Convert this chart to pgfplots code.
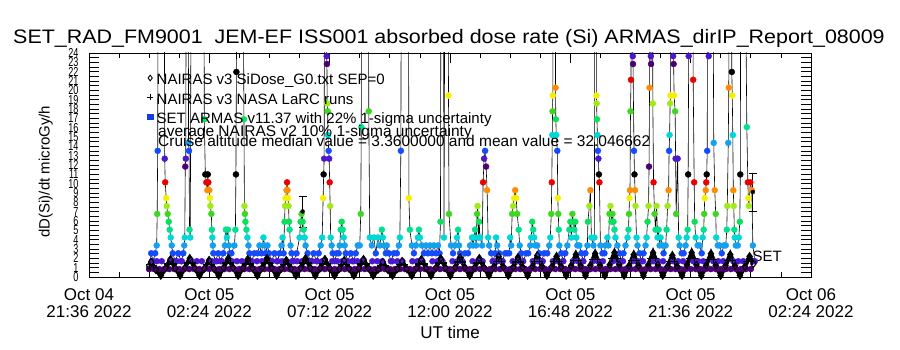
\documentclass[border=0pt]{standalone}
\usepackage{pgfplots}
\usepackage{pgfplotstable}
\pgfplotsset{compat=1.18}
\usepackage{fontspec}
\setmainfont{Liberation Sans}
\newfontfamily\ynarrow[FakeStretch=0.7]{Liberation Sans}
\newfontfamily\titlefont[FakeStretch=1.1]{Liberation Sans}
\definecolor{k1col}{RGB}{75,0,115}
\definecolor{k2col}{RGB}{75,25,205}
\definecolor{k3col}{RGB}{20,75,250}
\definecolor{k4col}{RGB}{20,160,240}
\definecolor{k5col}{RGB}{0,215,215}
\definecolor{k6col}{RGB}{0,225,140}
\definecolor{k7col}{RGB}{10,225,90}
\definecolor{k8col}{RGB}{60,215,30}
\definecolor{k9col}{RGB}{160,235,20}
\definecolor{k10col}{RGB}{245,240,0}
\definecolor{k11col}{RGB}{255,140,0}
\definecolor{k12col}{RGB}{235,0,0}
\definecolor{k13col}{RGB}{0,0,0}
\definecolor{legblue}{RGB}{20,60,230}

\pgfplotstableread{
t v c
0.00 0.85 c1
0.08 2.54 c3
0.16 1.69 c2
0.24 2.54 c3
0.30 3.38 c4
0.32 6.76 c8
0.34 13.52 c3
0.36 40 c13
0.60 40 c13
0.62 12.68 c2
0.64 10.14 c12
0.68 8.45 c10
0.70 7.61 c9
0.74 6.76 c8
0.78 5.92 c7
0.82 5.07 c6
0.86 4.23 c5
0.90 3.38 c4
0.94 2.54 c3
1.04 1.69 c2
1.16 2.54 c3
1.28 1.69 c2
1.36 2.54 c3
1.40 3.38 c4
1.42 4.23 c5
1.44 11.83 c1
1.46 12.68 c2
1.48 40 c13
1.56 40 c13
1.57 14.37 c4
1.59 13.52 c3
1.61 5.07 c6
1.64 4.23 c5
1.68 40 c13
2.18 40 c13
2.20 16.90 c7
2.24 10.99 c13
2.28 10.14 c12
2.32 9.30 c11
2.34 10.99 c13
2.36 10.14 c12
2.40 9.30 c11
2.42 8.45 c10
2.44 7.61 c9
2.48 6.76 c8
2.50 5.07 c6
2.52 4.23 c5
2.54 3.38 c4
2.56 2.54 c3
2.64 1.69 c2
2.76 2.54 c3
2.84 1.69 c2
2.96 2.54 c3
3.02 3.38 c4
3.06 5.07 c6
3.10 4.23 c5
3.14 5.07 c6
3.18 3.38 c4
3.22 2.54 c3
3.28 2.54 c3
3.40 3.38 c4
3.44 5.07 c6
3.46 10.99 c13
3.48 21.97 c13
3.50 40 c13
3.74 40 c13
3.78 16.90 c7
3.80 7.61 c9
3.82 6.76 c8
3.84 5.92 c7
3.88 5.07 c6
3.92 4.23 c5
3.96 3.38 c4
4.00 2.54 c3
4.08 1.69 c2
4.20 2.54 c3
4.32 2.54 c3
4.40 3.38 c4
4.48 2.54 c3
4.56 4.23 c5
4.60 3.38 c4
4.64 2.54 c3
4.72 3.38 c4
4.78 2.54 c3
4.88 1.69 c2
5.00 2.54 c3
5.12 1.69 c2
5.20 2.54 c3
5.28 3.38 c4
5.32 4.23 c5
5.36 2.54 c3
5.40 5.92 c7
5.42 7.61 c9
5.44 8.45 c10
5.48 9.30 c11
5.50 10.14 c12
5.52 9.30 c11
5.54 8.45 c10
5.56 7.61 c9
5.58 5.92 c7
5.60 5.07 c6
5.64 3.38 c4
5.68 2.54 c3
5.76 1.69 c2
5.88 2.54 c3
6.00 4.23 c5
6.04 5.92 c7
6.08 6.76 c8
6.12 5.92 c7
6.16 5.07 c6
6.20 4.23 c5
6.24 3.38 c4
6.32 2.54 c3
6.44 1.69 c2
6.56 2.54 c3
6.68 1.69 c2
6.76 2.54 c3
6.84 3.38 c4
6.90 4.23 c5
6.94 8.45 c10
6.96 10.99 c13
6.98 12.68 c2
7.00 40 c13
7.06 40 c13
7.08 23.66 c2
7.09 22.82 c1
7.10 18.59 c9
7.12 17.75 c8
7.13 15.21 c5
7.16 13.52 c3
7.18 12.68 c2
7.20 10.14 c12
7.22 7.61 c9
7.24 4.23 c5
7.28 3.38 c4
7.32 2.54 c3
7.40 1.69 c2
7.48 2.54 c3
7.56 2.54 c3
7.60 3.38 c4
7.64 5.07 c6
7.68 5.92 c7
7.72 5.07 c6
7.76 4.23 c5
7.80 3.38 c4
7.84 2.54 c3
7.92 1.69 c2
8.04 2.54 c3
8.16 1.69 c2
8.24 2.54 c3
8.32 3.38 c4
8.40 3.38 c4
8.44 6.76 c8
8.46 16.06 c6
8.48 40 c13
8.74 40 c13
8.76 17.75 c8
8.80 4.23 c5
8.88 3.38 c4
8.96 4.23 c5
9.04 2.54 c3
9.12 4.23 c5
9.20 3.38 c4
9.28 5.07 c6
9.32 4.23 c5
9.36 3.38 c4
9.44 2.54 c3
9.48 3.38 c4
9.56 2.54 c3
9.64 1.69 c2
9.76 2.54 c3
9.88 2.54 c3
9.96 3.38 c4
10.00 4.23 c5
10.04 13.52 c3
10.06 40 c13
10.34 40 c13
10.36 8.45 c10
10.40 5.07 c6
10.48 3.38 c4
10.56 2.54 c3
10.64 3.38 c4
10.72 4.23 c5
10.76 5.07 c6
10.80 4.23 c5
10.88 3.38 c4
10.96 2.54 c3
11.04 3.38 c4
11.12 2.54 c3
11.20 3.38 c4
11.28 2.54 c3
11.36 3.38 c4
11.44 2.54 c3
11.52 3.38 c4
11.58 2.54 c3
11.62 5.92 c7
11.64 40 c13
11.74 40 c13
11.76 4.23 c5
11.80 40 c13
11.92 40 c13
11.94 19.44 c10
11.96 6.76 c8
12.04 3.38 c4
12.12 2.54 c3
12.20 3.38 c4
12.28 4.23 c5
12.32 5.07 c6
12.36 3.38 c4
12.40 2.54 c3
12.48 1.69 c2
12.60 2.54 c3
12.72 2.54 c3
12.80 3.38 c4
12.88 4.23 c5
12.92 3.38 c4
12.96 4.23 c5
13.00 5.07 c6
13.04 3.38 c4
13.08 6.76 c8
13.10 7.61 c9
13.14 4.23 c5
13.16 5.92 c7
13.20 4.23 c5
13.28 3.38 c4
13.32 10.14 c12
13.36 12.68 c2
13.40 13.52 c3
13.44 11.83 c1
13.48 9.30 c11
13.52 4.23 c5
13.56 3.38 c4
13.64 2.54 c3
13.72 1.69 c2
13.80 2.54 c3
13.84 4.23 c5
13.88 3.38 c4
13.96 2.54 c3
14.08 1.69 c2
14.20 2.54 c3
14.28 2.54 c3
14.36 2.54 c3
14.40 4.23 c5
14.44 3.38 c4
14.48 6.76 c8
14.52 7.61 c9
14.56 8.45 c10
14.60 9.30 c11
14.64 8.45 c10
14.68 6.76 c8
14.74 5.07 c6
14.78 3.38 c4
14.84 2.54 c3
14.92 1.69 c2
15.04 2.54 c3
15.12 2.54 c3
15.20 3.38 c4
15.24 4.23 c5
15.28 5.92 c7
15.32 5.07 c6
15.36 4.23 c5
15.40 3.38 c4
15.48 3.38 c4
15.56 2.54 c3
15.64 1.69 c2
15.76 2.54 c3
15.88 2.54 c3
15.96 3.38 c4
16.00 4.23 c5
16.04 6.76 c8
16.06 10.14 c12
16.08 15.21 c5
16.09 17.75 c8
16.10 19.44 c10
16.12 40 c13
16.20 40 c13
16.21 20.28 c11
16.22 16.90 c7
16.24 15.21 c5
16.28 13.52 c3
16.30 8.45 c10
16.32 6.76 c8
16.34 5.07 c6
16.36 3.38 c4
16.44 2.54 c3
16.52 1.69 c2
16.60 2.54 c3
16.68 3.38 c4
16.76 5.07 c6
16.80 5.92 c7
16.84 4.23 c5
16.88 6.76 c8
16.92 5.92 c7
16.96 5.07 c6
17.00 5.92 c7
17.04 4.23 c5
17.08 3.38 c4
17.16 3.38 c4
17.24 2.54 c3
17.32 1.69 c2
17.40 2.54 c3
17.48 3.38 c4
17.50 5.92 c7
17.56 7.61 c9
17.60 9.30 c11
17.64 4.23 c5
17.72 3.38 c4
17.76 4.23 c5
17.78 40 c13
17.82 40 c13
17.84 19.44 c10
17.85 18.59 c9
17.86 16.90 c7
17.88 15.21 c5
17.90 13.52 c3
17.92 12.68 c2
17.94 10.99 c13
17.96 10.14 c12
18.00 3.38 c4
18.08 2.54 c3
18.16 2.54 c3
18.20 3.38 c4
18.28 4.23 c5
18.32 3.38 c4
18.36 6.76 c8
18.40 7.61 c9
18.44 5.92 c7
18.48 6.76 c8
18.52 5.92 c7
18.56 5.07 c6
18.60 4.23 c5
18.68 3.38 c4
18.76 2.54 c3
18.84 1.69 c2
18.92 2.54 c3
19.00 3.38 c4
19.08 4.23 c5
19.12 5.07 c6
19.14 6.76 c8
19.16 8.45 c10
19.18 9.30 c11
19.20 17.75 c8
19.22 21.13 c12
19.24 40 c13
19.28 40 c13
19.29 23.66 c2
19.30 22.82 c1
19.34 13.52 c3
19.36 10.99 c13
19.38 9.30 c11
19.40 7.61 c9
19.44 4.23 c5
19.48 3.38 c4
19.56 2.54 c3
19.64 1.69 c2
19.72 2.54 c3
19.80 3.38 c4
19.84 4.23 c5
19.88 5.92 c7
19.92 7.61 c9
19.94 11.83 c1
19.96 20.28 c11
19.97 40 c13
20.01 23.66 c2
20.02 22.82 c1
20.04 40 c13
20.08 40 c13
20.09 18.59 c9
20.12 10.14 c12
20.16 6.76 c8
20.20 5.07 c6
20.24 7.61 c9
20.28 4.23 c5
20.32 5.07 c6
20.36 3.38 c4
20.40 4.23 c5
20.48 3.38 c4
20.52 2.54 c3
20.60 3.38 c4
20.64 5.07 c6
20.68 7.61 c9
20.72 9.30 c11
20.74 13.52 c3
20.76 15.21 c5
20.78 18.59 c9
20.80 19.44 c10
20.81 40 c13
20.88 40 c13
20.90 23.66 c2
20.92 22.82 c1
20.94 19.44 c10
20.98 17.75 c8
21.00 12.68 c2
21.02 6.76 c8
21.08 12.68 c2
21.12 4.23 c5
21.16 3.38 c4
21.24 2.54 c3
21.32 2.54 c3
21.40 3.38 c4
21.44 4.23 c5
21.48 5.07 c6
21.50 10.99 c13
21.52 23.66 c2
21.54 40 c13
21.68 40 c13
21.70 21.13 c12
21.74 10.14 c12
21.76 5.92 c7
21.80 4.23 c5
21.88 3.38 c4
21.96 3.38 c4
22.04 2.54 c3
22.08 4.23 c5
22.12 5.07 c6
22.14 6.76 c8
22.16 8.45 c10
22.20 9.30 c11
22.22 10.14 c12
22.24 10.99 c13
22.26 13.52 c3
22.28 40 c13
22.32 23.66 c2
22.34 40 c13
22.48 40 c13
22.52 14.37 c4
22.56 9.30 c11
22.60 6.76 c8
22.62 4.23 c5
22.68 3.38 c4
22.76 3.38 c4
22.84 2.54 c3
22.92 3.38 c4
23.00 3.38 c4
23.04 5.07 c6
23.06 7.61 c9
23.10 14.37 c4
23.12 20.28 c11
23.14 40 c13
23.22 40 c13
23.24 21.97 c13
23.26 19.44 c10
23.28 15.21 c5
23.30 9.30 c11
23.32 7.61 c9
23.34 5.07 c6
23.36 4.23 c5
23.40 3.38 c4
23.48 3.38 c4
23.52 4.23 c5
23.56 5.92 c7
23.58 10.99 c13
23.60 40 c13
23.76 40 c13
23.84 16.06 c6
23.88 10.14 c12
23.90 8.45 c10
23.92 7.61 c9
23.98 10.14 c12
24.04 9.30 c11
24.08 3.38 c4
24.16 1.69 c2
}\armas

\pgfplotstableread{
t v
0.00 1.20
0.08 1.60
0.27 0.75
0.465 0.15
0.66 0.95
0.85 1.90
1.04 0.95
1.235 0.15
1.43 1.00
1.62 2.00
1.81 1.00
2.005 0.15
2.20 0.90
2.39 1.80
2.58 0.90
2.775 0.15
2.97 1.00
3.16 2.00
3.35 1.00
3.545 0.15
3.74 0.95
3.93 1.90
4.12 0.95
4.315 0.15
4.51 1.00
4.70 2.00
4.89 1.00
5.085 0.15
5.28 0.90
5.47 1.80
5.66 0.90
5.855 0.15
6.05 1.00
6.24 2.00
6.43 1.00
6.625 0.15
6.82 0.95
7.01 1.90
7.20 0.95
7.395 0.15
7.59 0.90
7.78 1.80
7.97 0.90
8.165 0.15
8.36 0.95
8.55 1.90
8.74 0.95
8.935 0.15
9.13 0.80
9.32 1.60
9.51 0.80
9.705 0.15
9.90 0.85
10.09 1.70
10.28 0.85
10.475 0.15
10.67 0.95
10.86 1.90
11.05 0.95
11.245 0.15
11.44 1.00
11.63 2.00
11.82 1.00
12.015 0.15
12.21 1.05
12.40 2.10
12.59 1.05
12.785 0.15
12.98 1.00
13.17 2.00
13.36 1.00
13.555 0.15
13.75 1.10
13.94 2.20
14.13 1.10
14.325 0.15
14.52 1.05
14.71 2.10
14.90 1.05
15.095 0.15
15.29 1.15
15.48 2.30
15.67 1.15
15.865 0.15
16.06 1.10
16.25 2.20
16.44 1.10
16.635 0.15
16.83 1.20
17.02 2.40
17.21 1.20
17.405 0.15
17.60 1.25
17.79 2.50
17.98 1.25
18.175 0.15
18.37 1.30
18.56 2.60
18.75 1.30
18.945 0.15
19.14 1.20
19.33 2.40
19.52 1.20
19.715 0.15
19.91 1.30
20.10 2.60
20.29 1.30
20.485 0.15
20.68 1.15
20.87 2.30
21.06 1.15
21.255 0.15
21.45 1.30
21.64 2.60
21.83 1.30
22.025 0.15
22.22 1.25
22.41 2.50
22.60 1.25
22.795 0.15
22.99 1.20
23.18 2.40
23.37 1.20
23.565 0.15
23.76 1.10
23.95 2.20
24.10 1.40
}\nairas

\pgfplotstableread{
t v
0.00 1.30
0.18 1.20
0.75 1.40
0.95 1.40
1.52 1.50
1.72 1.50
2.29 1.35
2.49 1.35
3.06 1.50
3.26 1.50
3.83 1.40
4.03 1.40
4.60 1.50
4.80 1.50
5.37 1.35
5.57 1.35
6.14 1.50
6.34 1.50
6.91 1.40
7.11 1.40
7.68 1.35
7.88 1.35
8.45 1.40
8.65 1.40
9.22 1.20
9.42 1.20
9.99 1.30
10.19 1.30
10.76 1.40
10.96 1.40
11.53 1.50
11.73 1.50
12.30 1.60
12.50 1.60
13.07 1.50
13.27 1.50
13.84 1.65
14.04 1.65
14.61 1.60
14.81 1.60
15.38 1.70
15.58 1.70
16.15 1.65
16.35 1.65
16.92 1.80
17.12 1.80
17.69 1.90
17.89 1.90
18.46 1.95
18.66 1.95
19.23 1.80
19.43 1.80
20.00 1.95
20.20 1.95
20.77 1.70
20.97 1.70
21.54 1.95
21.74 1.95
22.31 1.90
22.51 1.90
23.08 1.80
23.28 1.80
23.85 1.65
24.05 1.65
}\larc

\begin{document}
\begin{tikzpicture}
\path[use as bounding box] (0,0) rectangle (900bp,350bp);
\begin{axis}[
  at={(89bp,73bp)}, anchor=south west, scale only axis,
  width=722bp, height=224bp,
  xmin=-2.4, xmax=26.4, ymin=0, ymax=24,
  xtick={-2.4,2.4,7.2,12,16.8,21.6,26.4},
  xticklabels={{Oct 04\\21:36 2022},{Oct 05\\02:24 2022},{Oct 05\\07:12 2022},{Oct 05\\12:00 2022},{Oct 05\\16:48 2022},{Oct 05\\21:36 2022},{Oct 06\\02:24 2022}},
  xticklabel style={align=center, font=\fontsize{17bp}{17bp}\selectfont, yshift=-8bp},
  minor x tick num=3,
  ytick={0,0.5,...,24},
  yticklabels={0,,1,,2,,3,,4,,5,,6,,7,,8,,9,,10,,11,,12,,13,,14,,15,,16,,17,,18,,19,,20,,21,,22,,23,,24},
  yticklabel style={font=\ynarrow\fontsize{13bp}{13bp}\selectfont, xshift=-7bp},
  ylabel={dD(Si)/dt microGy/h},
  ylabel style={font=\fontsize{15bp}{15bp}\selectfont, at={(axis description cs:-0.06,0.47)}, anchor=center, rotate=0},
  tick align=inside,
  major tick length=10bp, minor tick length=5bp,
  tick style={black, line width=0.8bp},
  axis line style={black, line width=0.8bp},
  legend style={at={(axis description cs:0.0806,0.9085)}, anchor=north west, draw=none, fill=none,
    inner sep=0pt, outer sep=0pt, row sep=3.5bp, column sep=3bp,
    font=\fontsize{15bp}{15bp}\selectfont,
    nodes={inner sep=0.5bp, text height=11bp, text depth=4bp}},
  legend cell align=left,
  legend image code/.code={\draw[#1] plot coordinates {(0bp,3.5bp)};},
]
\addplot[forget plot, black, line width=0.6bp, no marks] table[x=t,y=v] {\armas};
\addplot[forget plot, only marks, mark=*, mark size=3bp, k1col] table[row sep=\\] {t v\\
0.0 0.85\\0.2 0.85\\0.4 0.85\\0.6 0.85\\0.8 0.85\\1.0 0.85\\1.2 0.85\\1.4 0.85\\1.6 0.85\\1.8 0.85\\
2.0 0.85\\2.2 0.85\\2.4 0.85\\2.6 0.85\\2.8 0.85\\3.0 0.85\\3.2 0.85\\3.4 0.85\\3.6 0.85\\3.8 0.85\\
4.0 0.85\\4.2 0.85\\4.4 0.85\\4.6 0.85\\4.8 0.85\\5.0 0.85\\5.2 0.85\\5.4 0.85\\5.6 0.85\\5.8 0.85\\
6.0 0.85\\6.2 0.85\\6.4 0.85\\6.6 0.85\\6.8 0.85\\7.0 0.85\\7.2 0.85\\7.4 0.85\\7.6 0.85\\7.8 0.85\\
8.0 0.85\\8.2 0.85\\8.4 0.85\\8.6 0.85\\8.8 0.85\\9.0 0.85\\9.2 0.85\\9.4 0.85\\9.6 0.85\\9.8 0.85\\
10.0 0.85\\10.2 0.85\\10.4 0.85\\10.6 0.85\\10.8 0.85\\11.0 0.85\\11.2 0.85\\11.4 0.85\\11.6 0.85\\11.8 0.85\\
12.0 0.85\\12.2 0.85\\12.4 0.85\\12.6 0.85\\12.8 0.85\\13.0 0.85\\13.2 0.85\\13.4 0.85\\13.6 0.85\\13.8 0.85\\
14.0 0.85\\14.2 0.85\\14.4 0.85\\14.6 0.85\\14.8 0.85\\15.0 0.85\\15.2 0.85\\15.4 0.85\\15.6 0.85\\15.8 0.85\\
16.0 0.85\\16.2 0.85\\16.4 0.85\\16.6 0.85\\16.8 0.85\\17.0 0.85\\17.2 0.85\\17.4 0.85\\17.6 0.85\\17.8 0.85\\
18.0 0.85\\18.2 0.85\\18.4 0.85\\18.6 0.85\\18.8 0.85\\19.0 0.85\\19.2 0.85\\19.4 0.85\\19.6 0.85\\19.8 0.85\\
20.0 0.85\\20.2 0.85\\20.4 0.85\\20.6 0.85\\20.8 0.85\\21.0 0.85\\21.2 0.85\\21.4 0.85\\21.6 0.85\\21.8 0.85\\
22.0 0.85\\22.2 0.85\\22.4 0.85\\22.6 0.85\\22.8 0.85\\23.0 0.85\\23.2 0.85\\23.4 0.85\\23.6 0.85\\23.8 0.85\\
24.0 0.85\\};
\addplot[forget plot, only marks, mark=*, mark size=3bp, k2col] table[row sep=\\] {t v\\
0.1 1.69\\0.3 1.69\\0.5 1.69\\0.9 1.69\\1.1 1.69\\1.3 1.69\\1.7 1.69\\1.9 1.69\\2.1 1.69\\2.5 1.69\\
2.7 1.69\\2.9 1.69\\3.3 1.69\\3.5 1.69\\3.7 1.69\\4.1 1.69\\4.3 1.69\\4.5 1.69\\4.9 1.69\\5.1 1.69\\
5.3 1.69\\5.7 1.69\\5.9 1.69\\6.1 1.69\\6.5 1.69\\6.7 1.69\\6.9 1.69\\7.3 1.69\\7.5 1.69\\7.7 1.69\\
8.1 1.69\\8.3 1.69\\8.5 1.69\\8.9 1.69\\9.1 1.69\\9.3 1.69\\9.7 1.69\\9.9 1.69\\10.1 1.69\\10.5 1.69\\
10.7 1.69\\10.9 1.69\\11.3 1.69\\11.5 1.69\\11.7 1.69\\12.1 1.69\\12.3 1.69\\12.5 1.69\\12.9 1.69\\13.1 1.69\\
13.3 1.69\\13.7 1.69\\13.9 1.69\\14.1 1.69\\14.5 1.69\\14.7 1.69\\14.9 1.69\\15.3 1.69\\15.5 1.69\\15.7 1.69\\
16.1 1.69\\16.3 1.69\\16.5 1.69\\16.9 1.69\\17.1 1.69\\17.3 1.69\\17.7 1.69\\17.9 1.69\\18.1 1.69\\18.5 1.69\\
18.7 1.69\\18.9 1.69\\19.3 1.69\\19.5 1.69\\19.7 1.69\\20.1 1.69\\20.3 1.69\\20.5 1.69\\20.9 1.69\\21.1 1.69\\
21.3 1.69\\21.7 1.69\\21.9 1.69\\22.1 1.69\\22.5 1.69\\22.7 1.69\\22.9 1.69\\23.3 1.69\\23.5 1.69\\23.7 1.69\\
24.1 1.69\\};
\addplot[forget plot, scatter, only marks, mark=*, mark size=3bp, scatter src=explicit symbolic,
  scatter/classes={
    c1={mark=*,draw=k1col,fill=k1col}, c2={mark=*,draw=k2col,fill=k2col},
    c3={mark=*,draw=k3col,fill=k3col}, c4={mark=*,draw=k4col,fill=k4col},
    c5={mark=*,draw=k5col,fill=k5col}, c6={mark=*,draw=k6col,fill=k6col},
    c7={mark=*,draw=k7col,fill=k7col}, c8={mark=*,draw=k8col,fill=k8col},
    c9={mark=*,draw=k9col,fill=k9col}, c10={mark=*,draw=k10col,fill=k10col},
    c11={mark=*,draw=k11col,fill=k11col}, c12={mark=*,draw=k12col,fill=k12col},
    c13={mark=*,draw=k13col,fill=k13col}}]
  table[x=t,y=v,meta=c] {\armas};
\addplot[forget plot, black, line width=4.2bp, mark=diamond, mark size=3.6bp, mark options={solid, line width=1bp}] table[x=t,y=v] {\nairas};
\addplot[forget plot, only marks, black, mark=+, mark size=3.6bp, mark options={line width=1.2bp}] table[x=t,y=v] {\larc};
\addplot[forget plot, only marks, mark=none, black, error bars/.cd, y dir=both, y explicit,
  error bar style={line width=0.8bp, black}, error mark options={rotate=90, mark size=4bp, line width=0.8bp, black}]
  coordinates {(6.12,7.02) +- (0,1.66) (24.08,9.11) +- (0,2.04)};
\node[anchor=west, inner sep=0pt, font=\fontsize{15bp}{15bp}\selectfont] at (axis cs:24.06,2.25) {SET};
\addlegendimage{only marks, mark=diamond, mark size=2.8bp, black, mark options={line width=0.9bp}}
\addlegendentry{NAIRAS v3 SiDose\_G0.txt SEP=0}
\addlegendimage{only marks, mark=+, mark size=3bp, black, mark options={line width=1bp}}
\addlegendentry{NAIRAS v3 NASA LaRC runs}
\addlegendimage{only marks, mark=square*, mark size=2.6bp, legblue}
\addlegendentry{SET ARMAS v11.37 with 22\% 1-sigma uncertainty}
\end{axis}
\node[anchor=base west, inner sep=0pt, font=\fontsize{15.5bp}{15.5bp}\selectfont] at (158bp,213bp) {average NAIRAS v2 10\% 1-sigma uncertainty};
\node[anchor=base west, inner sep=0pt, font=\fontsize{15.5bp}{15.5bp}\selectfont] at (158bp,203bp) {Cruise altitude median value = 3.3600000 and mean value = 32.046662};
\node[anchor=base, inner sep=0pt, font=\titlefont\fontsize{19.5bp}{20bp}\selectfont] at (449bp,306bp) {SET\_RAD\_FM9001\ \ JEM-EF ISS001 absorbed dose rate (Si) ARMAS\_dirIP\_Report\_08009};
\node[anchor=base, inner sep=0pt, font=\fontsize{17bp}{17bp}\selectfont] at (450bp,12bp) {UT time};
\end{tikzpicture}
\end{document}
